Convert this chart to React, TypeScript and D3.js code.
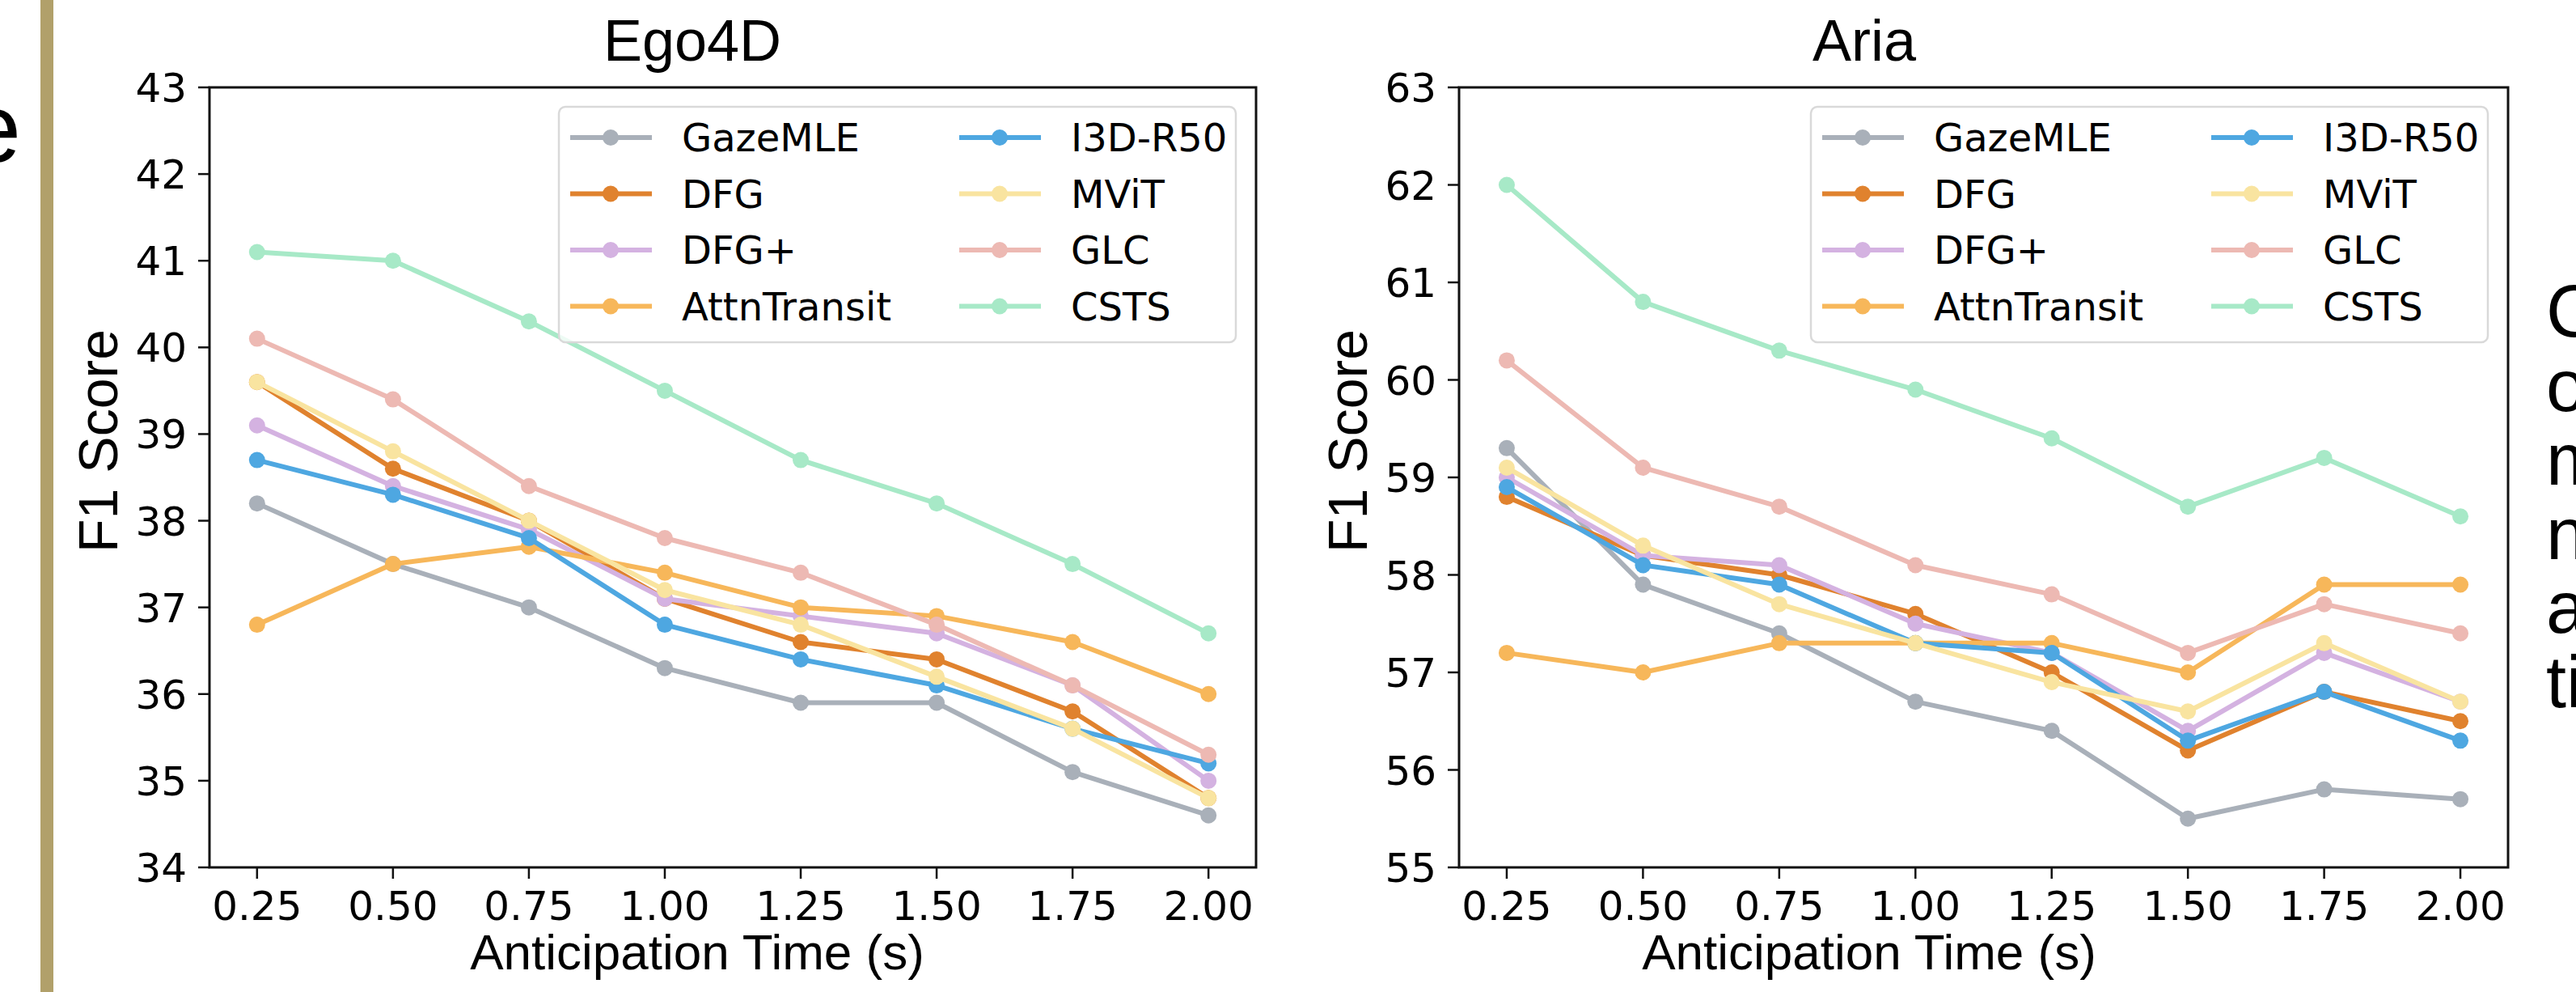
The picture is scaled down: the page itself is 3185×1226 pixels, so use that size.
import React from 'react'
import * as d3 from 'd3'

const times = [0.25, 0.5, 0.75, 1.0, 1.25, 1.5, 1.75, 2.0]
const timeLabels = ['0.25', '0.50', '0.75', '1.00', '1.25', '1.50', '1.75', '2.00']

const methods = ['GazeMLE', 'DFG', 'DFG+', 'AttnTransit', 'I3D-R50', 'MViT', 'GLC', 'CSTS']
const colors = ['#a9b0b9', '#e0822e', '#d4b2e1', '#f7b75a', '#4ea7e1', '#f9e4a0', '#edb9b3', '#a7e9c7']

// Ego4D
const egoGazeMLE = [38.2, 37.5, 37.0, 36.3, 35.9, 35.9, 35.1, 34.6]
const egoDFG = [39.6, 38.6, 38.0, 37.1, 36.6, 36.4, 35.8, 34.8]
const egoDFGPlus = [39.1, 38.4, 37.9, 37.1, 36.9, 36.7, 36.1, 35.0]
const egoAttnTransit = [36.8, 37.5, 37.7, 37.4, 37.0, 36.9, 36.6, 36.0]
const egoI3D = [38.7, 38.3, 37.8, 36.8, 36.4, 36.1, 35.6, 35.2]
const egoMViT = [39.6, 38.8, 38.0, 37.2, 36.8, 36.2, 35.6, 34.8]
const egoGLC = [40.1, 39.4, 38.4, 37.8, 37.4, 36.8, 36.1, 35.3]
const egoCSTS = [41.1, 41.0, 40.3, 39.5, 38.7, 38.2, 37.5, 36.7]
const egoTicks = [34, 35, 36, 37, 38, 39, 40, 41, 42, 43]

// Aria
const ariaGazeMLE = [59.3, 57.9, 57.4, 56.7, 56.4, 55.5, 55.8, 55.7]
const ariaDFG = [58.8, 58.2, 58.0, 57.6, 57.0, 56.2, 56.8, 56.5]
const ariaDFGPlus = [59.0, 58.2, 58.1, 57.5, 57.2, 56.4, 57.2, 56.7]
const ariaAttnTransit = [57.2, 57.0, 57.3, 57.3, 57.3, 57.0, 57.9, 57.9]
const ariaI3D = [58.9, 58.1, 57.9, 57.3, 57.2, 56.3, 56.8, 56.3]
const ariaMViT = [59.1, 58.3, 57.7, 57.3, 56.9, 56.6, 57.3, 56.7]
const ariaGLC = [60.2, 59.1, 58.7, 58.1, 57.8, 57.2, 57.7, 57.4]
const ariaCSTS = [62.0, 60.8, 60.3, 59.9, 59.4, 58.7, 59.2, 58.6]
const ariaTicks = [55, 56, 57, 58, 59, 60, 61, 62, 63]

const egoSeries = [egoGazeMLE, egoDFG, egoDFGPlus, egoAttnTransit, egoI3D, egoMViT, egoGLC, egoCSTS]
const ariaSeries = [ariaGazeMLE, ariaDFG, ariaDFGPlus, ariaAttnTransit, ariaI3D, ariaMViT, ariaGLC, ariaCSTS]

const sideLines = ['C', 'o', 'm', 'n', 'a', 'ti']

const W = 3185
const H = 1226
const top = 108
const bottom = 1072
const tickFont = 'DejaVu Sans, sans-serif'
const labelFont = 'Liberation Sans, Arial, sans-serif'

function Panel({ left, right, title, titleX, series, ticks }) {
  const pad = (times[times.length - 1] - times[0]) * 0.05
  const x = d3.scaleLinear().domain([times[0] - pad, times[times.length - 1] + pad]).range([left, right])
  const y = d3.scaleLinear().domain([ticks[0], ticks[ticks.length - 1]]).range([bottom, top])
  const line = d3.line<number>().x((d, i) => x(times[i])).y(d => y(d))

  const legLeft = right - 862
  const legTop = 132
  const rowH = 69.5
  const colX = [legLeft + 14, legLeft + 495]

  return (
    <g>
      <text x={titleX} y={75} fontFamily={labelFont} fontSize={72} textAnchor="middle">{title}</text>

      {series.map((vals, i) => (
        <g key={methods[i]}>
          <path d={line(vals)} fill="none" stroke={colors[i]} strokeWidth={6} strokeLinejoin="round" />
          {vals.map((v, j) => (
            <circle key={j} cx={x(times[j])} cy={y(v)} r={10} fill={colors[i]} />
          ))}
        </g>
      ))}

      <rect x={left} y={top} width={right - left} height={bottom - top} fill="none" stroke="#111" strokeWidth={3} />

      {ticks.map(t => (
        <g key={t}>
          <line x1={left - 14} x2={left} y1={y(t)} y2={y(t)} stroke="#111" strokeWidth={2.5} />
          <text x={left - 28} y={y(t)} dy="0.36em" fontFamily={tickFont} fontSize={50} textAnchor="end">{t}</text>
        </g>
      ))}
      {times.map((t, i) => (
        <g key={t}>
          <line x1={x(t)} x2={x(t)} y1={bottom} y2={bottom + 14} stroke="#111" strokeWidth={2.5} />
          <text x={x(t)} y={1137} fontFamily={tickFont} fontSize={50} textAnchor="middle">{timeLabels[i]}</text>
        </g>
      ))}

      <text x={titleX + 6} y={1198} fontFamily={labelFont} fontSize={62} textAnchor="middle">Anticipation Time (s)</text>
      <text transform={`translate(${left - 138},545) rotate(-90)`} fontFamily={labelFont} fontSize={68} textAnchor="middle" dy="0.36em">F1 Score</text>

      <rect x={legLeft} y={legTop} width={837} height={291} rx={8} fill="#fff" fillOpacity={0.8} stroke="#d9d9d9" strokeWidth={2.5} />
      {methods.map((m, i) => {
        const cx = colX[Math.floor(i / 4)]
        const cy = legTop + 38 + (i % 4) * rowH
        return (
          <g key={m}>
            <line x1={cx} x2={cx + 101} y1={cy} y2={cy} stroke={colors[i]} strokeWidth={6} />
            <circle cx={cx + 50} cy={cy} r={10} fill={colors[i]} />
            <text x={cx + 138} y={cy} dy="0.36em" fontFamily={tickFont} fontSize={48}>{m}</text>
          </g>
        )
      })}
    </g>
  )
}

export default function App() {
  return (
    <svg width={W} height={H} style={{ position: 'absolute', left: 0, top: 0, background: '#fff' }}>
      <rect x={0} y={0} width={W} height={H} fill="#fff" />
      <text x={26} y={200} fontFamily={labelFont} fontSize={120} textAnchor="end">e</text>
      <rect x={50} y={0} width={16} height={H} fill="#b1a06a" />

      <Panel left={259} right={1553} title="Ego4D" titleX={856} series={egoSeries} ticks={egoTicks} />
      <Panel left={1804} right={3101} title="Aria" titleX={2305} series={ariaSeries} ticks={ariaTicks} />

      {sideLines.map((s, i) => (
        <text key={i} x={3148} y={416 + i * 91.5} fontFamily={labelFont} fontSize={90}>{s}</text>
      ))}
    </svg>
  )
}
